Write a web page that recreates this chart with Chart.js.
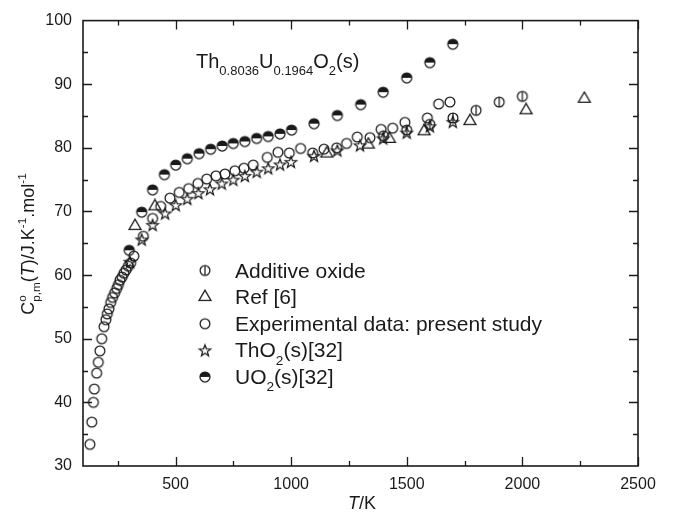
<!DOCTYPE html>
<html>
<head>
<meta charset="utf-8">
<script src="https://cdn.jsdelivr.net/npm/chart.js@4.4.0/dist/chart.umd.min.js"></script>
<style>
  html, body { margin: 0; padding: 0; background: #fff; }
  #wrap { width: 673px; height: 514px; }
</style>
</head>
<body>
<div id="wrap"><canvas id="c" width="673" height="514"></canvas></div>
<script>
const FONT = '"Liberation Sans", Arial, sans-serif';
const INK = '#1a1a1a';

// series names (legend order)
const seriesNames = ['Additive oxide', 'Ref [6]', 'Experimental data: present study', 'ThO2(s)[32]', 'UO2(s)[32]'];

// Additive oxide
const addT  = [1400, 1500, 1600, 1700, 1800, 1900, 2000];
const addCp = [81.9, 82.8, 83.7, 84.7, 85.9, 87.2, 88.1];

// Ref [6]
const refT  = [325, 411, 1154, 1334, 1425, 1575, 1773, 2016, 2268];
const refCp = [67.7, 70.8, 79.1, 80.5, 81.4, 82.6, 84.2, 85.9, 87.7];

// experimental data, present study
const expT  = [130, 138, 145, 149, 159, 166, 173, 181, 191, 199, 205, 212, 220, 228, 237, 246, 253, 260,
               269, 277, 286, 296, 306, 320, 361, 401, 436, 476, 516, 557, 597, 635, 675, 714, 757, 796,
               836, 897, 943, 992, 1041, 1093, 1142, 1197, 1240, 1286, 1341, 1389, 1439, 1492, 1589, 1638, 1687];
const expCp = [33.4, 36.9, 40.0, 42.1, 44.6, 46.3, 48.1, 50.0, 51.9, 53.0, 53.9, 54.7, 55.7, 56.5, 57.2, 57.9, 58.5, 59.2,
               59.7, 60.3, 60.8, 61.4, 61.9, 63.0, 66.1, 68.9, 70.8, 72.1, 73.0, 73.6, 74.4, 75.1, 75.6, 75.9, 76.4, 76.8,
               77.3, 78.5, 79.3, 79.2, 79.9, 79.2, 79.8, 80.0, 80.7, 81.7, 81.6, 82.9, 83.1, 84.0, 84.7, 86.9, 87.2];

// ThO2(s) [32]
const thoT  = [303, 354, 401, 455, 501, 551, 599, 649, 700, 750, 800, 851, 901, 952, 999, 1099, 1200, 1298, 1398, 1500, 1600, 1699];
const thoCp = [62.1, 65.6, 67.9, 69.7, 71.0, 72.0, 72.9, 73.5, 74.4, 75.0, 75.6, 76.25, 76.8, 77.4, 77.8, 78.75, 79.6, 80.4, 81.5, 82.4, 83.4, 84.1];

// UO2(s) [32]
const uoT  = [300, 354, 401, 452, 501, 551, 602, 652, 702, 750, 800, 851, 901, 952, 1002, 1099, 1200, 1301, 1398, 1500, 1600, 1699];
const uoCp = [63.9, 69.9, 73.4, 75.8, 77.3, 78.3, 79.1, 79.8, 80.3, 80.7, 81.0, 81.5, 81.8, 82.2, 82.8, 83.8, 85.1, 86.8, 88.75, 91.0, 93.4, 96.3];

// axis ranges and tick steps
const xRange = [100, 2500];
const yRange = [30, 100];
const xMajor = 500, xMinor = 250;
const yMajor = 10, yMinor = 5;

function pts(xs, ys) { return xs.map((x, i) => ({ x: x, y: ys[i] })); }

// marker images
function marker(kind) {
  const c = document.createElement('canvas');
  c.width = 16; c.height = 16;
  const g = c.getContext('2d');
  g.strokeStyle = INK; g.fillStyle = INK; g.lineWidth = 1.25;
  const cx = 8, cy = 8;
  if (kind === 'circle' || kind === 'additive') {
    g.beginPath(); g.arc(cx, cy, 4.9, 0, Math.PI * 2); g.stroke();
    if (kind === 'additive') {
      g.beginPath(); g.moveTo(cx, cy - 4.9); g.lineTo(cx, cy + 4.9); g.stroke();
    }
  } else if (kind === 'half') {
    g.beginPath(); g.arc(cx, cy, 5, Math.PI, 0); g.closePath(); g.fill();
    g.beginPath(); g.arc(cx, cy, 5, 0, Math.PI * 2); g.stroke();
  } else if (kind === 'triangle') {
    const s = 12, h = s * Math.sqrt(3) / 2;
    g.beginPath();
    g.moveTo(cx, cy - h * 2 / 3);
    g.lineTo(cx + s / 2, cy + h / 3);
    g.lineTo(cx - s / 2, cy + h / 3);
    g.closePath(); g.stroke();
  } else if (kind === 'star') {
    g.beginPath();
    for (let k = 0; k < 10; k++) {
      const r = k % 2 ? 2.5 : 6;
      const a = -Math.PI / 2 + k * Math.PI / 5;
      const px = cx + r * Math.cos(a), py = cy + 0.6 + r * Math.sin(a);
      k ? g.lineTo(px, py) : g.moveTo(px, py);
    }
    g.closePath(); g.stroke();
  }
  return c;
}
const markers = [marker('additive'), marker('triangle'), marker('circle'), marker('star'), marker('half')];

// rich text: segments {t, s: 'sub'|'sup', i: italic, back: restart at previous segment x}
function richWidth(ctx, segs, size) {
  let w = 0, prevStart = 0, prevW = 0;
  segs.forEach(sg => {
    const fs = sg.s ? size * 0.65 : size;
    ctx.font = (sg.i ? 'italic ' : '') + fs + 'px ' + FONT;
    const sw = ctx.measureText(sg.t).width;
    if (sg.back) { w = prevStart + Math.max(prevW, sw); }
    else { prevStart = w; prevW = sw; w += sw; }
  });
  return w;
}
function drawRich(ctx, segs, x, y, size) {
  let cx = x, prevStart = x, prevW = 0;
  ctx.textBaseline = 'alphabetic';
  ctx.textAlign = 'left';
  segs.forEach(sg => {
    const fs = sg.s ? size * 0.65 : size;
    ctx.font = (sg.i ? 'italic ' : '') + fs + 'px ' + FONT;
    const sw = ctx.measureText(sg.t).width;
    const dy = sg.s === 'sub' ? size * 0.36 : sg.s === 'sup' ? -size * 0.42 : 0;
    if (sg.back) {
      ctx.fillText(sg.t, prevStart, y + dy);
      cx = prevStart + Math.max(prevW, sw);
    } else {
      ctx.fillText(sg.t, cx, y + dy);
      prevStart = cx; prevW = sw; cx += sw;
    }
  });
}
// digits after a letter become subscripts (ThO2 -> ThO_2)
function chemSegs(label) {
  const out = [];
  label.split(/(?<=[A-Za-z])(\d+)/).forEach((p, i) => {
    if (p) out.push(i % 2 ? { t: p, s: 'sub' } : { t: p });
  });
  return out;
}

const decor = {
  id: 'decor',
  afterDraw(chart) {
    const ctx = chart.ctx, a = chart.chartArea;
    const xs = chart.scales.x, ys = chart.scales.y;
    ctx.save();
    ctx.strokeStyle = INK; ctx.fillStyle = INK;

    // ticks inward on all sides
    ctx.lineWidth = 1.3;
    ctx.beginPath();
    for (let v = xMinor; v <= xRange[1]; v += xMinor) {
      if (v <= xRange[0]) continue;
      const px = Math.round(xs.getPixelForValue(v)) + 0.5;
      const len = v % xMajor === 0 ? 9 : 5;
      ctx.moveTo(px, a.bottom); ctx.lineTo(px, a.bottom - len);
      ctx.moveTo(px, a.top); ctx.lineTo(px, a.top + len);
    }
    for (let v = yRange[0] + yMinor; v < yRange[1]; v += yMinor) {
      const py = Math.round(ys.getPixelForValue(v)) + 0.5;
      const len = v % yMajor === 0 ? 9 : 5;
      ctx.moveTo(a.left, py); ctx.lineTo(a.left + len, py);
      ctx.moveTo(a.right, py); ctx.lineTo(a.right - len, py);
    }
    ctx.stroke();

    // frame
    ctx.lineWidth = 1.6;
    ctx.strokeRect(a.left, a.top, a.right - a.left, a.bottom - a.top);

    // compound label
    drawRich(ctx, [
      { t: 'Th' }, { t: '0.8036', s: 'sub' }, { t: 'U' }, { t: '0.1964', s: 'sub' },
      { t: 'O' }, { t: '2', s: 'sub' }, { t: '(s)' }
    ], 196, 68, 20);

    // legend
    seriesNames.forEach((name, i) => {
      const yy = 270.5 + i * 26.6;
      ctx.drawImage(markers[i], 205 - 8, yy - 8);
      drawRich(ctx, chemSegs(name), 235, yy + 7, 21);
    });

    // x title
    drawRich(ctx, [{ t: 'T', i: true }, { t: '/K' }], 348, 509, 18);

    // y title
    const ySegs = [
      { t: 'C' }, { t: 'o', s: 'sup' }, { t: 'p,m', s: 'sub', back: true },
      { t: '(' }, { t: 'T', i: true }, { t: ')/J.K' }, { t: '-1', s: 'sup' }, { t: '.mol' }, { t: '-1', s: 'sup' }
    ];
    const w = richWidth(ctx, ySegs, 18);
    ctx.translate(34, 244);
    ctx.rotate(-Math.PI / 2);
    drawRich(ctx, ySegs, -w / 2, 0, 18);
    ctx.restore();
  }
};

const tickFont = { family: FONT, size: 16 };

new Chart(document.getElementById('c'), {
  type: 'scatter',
  data: {
    datasets: [
      { label: seriesNames[4], data: pts(uoT, uoCp), pointStyle: markers[4] },
      { label: seriesNames[3], data: pts(thoT, thoCp), pointStyle: markers[3] },
      { label: seriesNames[2], data: pts(expT, expCp), pointStyle: markers[2] },
      { label: seriesNames[1], data: pts(refT, refCp), pointStyle: markers[1] },
      { label: seriesNames[0], data: pts(addT, addCp), pointStyle: markers[0] }
    ]
  },
  options: {
    responsive: false,
    animation: false,
    devicePixelRatio: 1,
    layout: { padding: { top: 18, right: 35, left: 0, bottom: 0 } },
    plugins: { legend: { display: false }, tooltip: { enabled: false } },
    elements: { point: { radius: 5 } },
    scales: {
      x: {
        type: 'linear', min: xRange[0], max: xRange[1],
        grid: { display: false, drawTicks: false },
        border: { display: false },
        ticks: {
          stepSize: xMinor, autoSkip: false, maxRotation: 0, padding: 9,
          color: INK, font: tickFont,
          callback: v => (v % xMajor === 0 ? v : '')
        },
        afterFit: s => { s.height = 48; }
      },
      y: {
        type: 'linear', min: yRange[0], max: yRange[1],
        grid: { display: false, drawTicks: false },
        border: { display: false },
        ticks: {
          stepSize: yMinor, autoSkip: false, padding: 11,
          color: INK, font: tickFont,
          callback: v => (v % yMajor === 0 ? v : '')
        },
        afterFit: s => { s.width = 83; }
      }
    }
  },
  plugins: [decor]
});
</script>
</body>
</html>
